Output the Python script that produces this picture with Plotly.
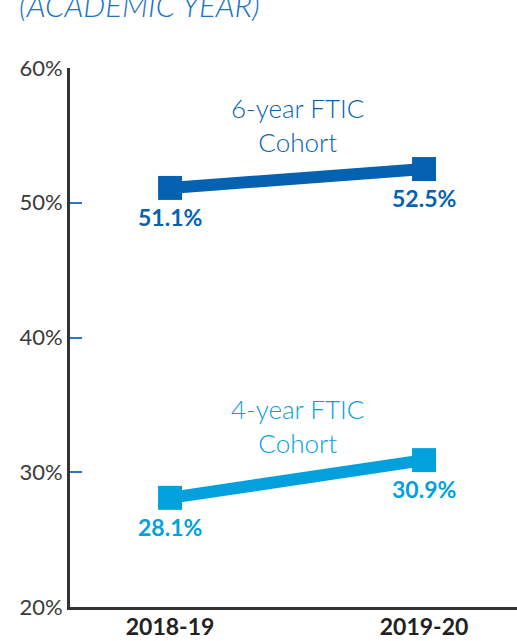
import plotly.graph_objects as go

years = ["2018-19", "2019-20"]
six_year = [51.1, 52.5]
four_year = [28.1, 30.9]
six_labels = ["51.1%", "52.5%"]
four_labels = ["28.1%", "30.9%"]
y_ticks = [20, 30, 40, 50, 60]
y_tick_labels = ["20%", "30%", "40%", "50%", "60%"]

DARK = "#0562b0"
LIGHT = "#03a0de"
FONT = "Lato"

fig = go.Figure()
for ys, col in [(six_year, DARK), (four_year, LIGHT)]:
    fig.add_trace(go.Scatter(
        x=years, y=ys, mode="lines+markers",
        line=dict(color=col, width=12),
        marker=dict(symbol="square", size=24, color=col),
        hoverinfo="skip", showlegend=False, cliponaxis=False,
    ))

annotations = []
for ys, labs, col in [(six_year, six_labels, DARK), (four_year, four_labels, LIGHT)]:
    for x, y, t in zip(years, ys, labs):
        annotations.append(dict(
            x=x, y=y, text=t, showarrow=False, yshift=-29,
            font=dict(family=FONT, size=23, color=col, weight="bold"),
        ))

annotations.append(dict(x=0.5, y=55.75, text="6-year FTIC<br>Cohort", showarrow=False,
                        font=dict(family=FONT, size=26, color=DARK, weight=300)))
annotations.append(dict(x=0.5, y=33.45, text="4-year FTIC<br>Cohort", showarrow=False,
                        font=dict(family=FONT, size=26, color=LIGHT, weight=300)))
annotations.append(dict(xref="paper", yref="paper", x=-0.118, y=1.117, xanchor="left", yanchor="middle",
                        text="<i>(ACADEMIC YEAR)</i>", showarrow=False,
                        font=dict(family=FONT, size=31, color="#1a73c0", weight=300)))

fig.update_layout(
    width=517, height=641,
    margin=dict(l=70, r=0, t=68, b=34),
    paper_bgcolor="white", plot_bgcolor="white",
    font=dict(family=FONT, color="#333333"),
    annotations=annotations,
    xaxis=dict(
        type="category", range=[-0.394, 1.366], automargin=False,
        showline=True, linecolor="#333333", linewidth=3,
        showgrid=False, zeroline=False, ticks="", ticklabelstandoff=-3,
        tickfont=dict(family=FONT, size=23, color="#222222", weight="bold"),
    ),
    yaxis=dict(
        range=[20, 60], tickvals=y_ticks, ticktext=y_tick_labels, automargin=False,
        showline=True, linecolor="#333333", linewidth=3,
        showgrid=False, zeroline=False,
        ticks="inside", ticklen=12, tickwidth=2, tickcolor="#2a78c2",
        tickfont=dict(family=FONT, size=22, color="#3a3a3a"),
    ),
)

fig.write_html("out.html", config={"displayModeBar": False},
               post_script="document.body.style.margin='0';document.body.style.overflow='hidden';")
